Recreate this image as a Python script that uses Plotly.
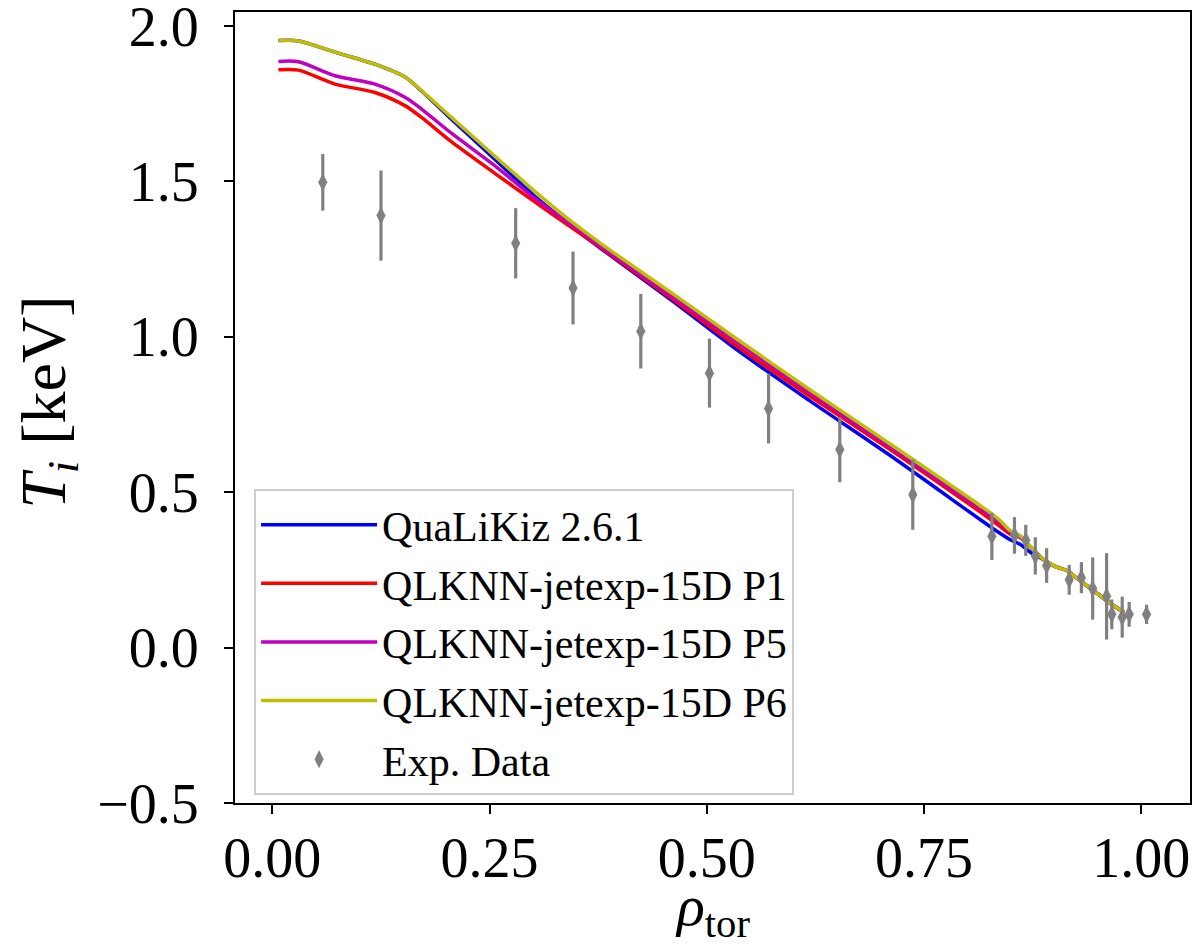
import plotly.graph_objects as go

# ---------------- data ----------------
rho = [0.007, 0.030, 0.072, 0.118, 0.153, 0.172, 0.206, 0.258, 0.302, 0.344, 0.378,
       0.459, 0.539, 0.619, 0.711, 0.814, 0.835, 0.849, 0.860, 0.873, 0.886, 0.900,
       0.914, 0.929, 0.948, 0.963, 0.980]

ti_qualikiz = [1.953, 1.952, 1.916, 1.877, 1.835, 1.790, 1.700, 1.566, 1.452, 1.357, 1.284,
               1.118, 0.949, 0.793, 0.618, 0.413, 0.372, 0.347, 0.333, 0.305, 0.285, 0.262,
               0.248, 0.216, 0.177, 0.145, 0.113]
ti_p1 = [1.859, 1.858, 1.813, 1.786, 1.743, 1.705, 1.628, 1.522, 1.434, 1.352, 1.286,
         1.124, 0.961, 0.808, 0.637, 0.438, 0.395, 0.365, 0.355, 0.322, 0.287, 0.262,
         0.248, 0.216, 0.177, 0.145, 0.113]
ti_p5 = [1.886, 1.885, 1.840, 1.813, 1.770, 1.732, 1.655, 1.546, 1.445, 1.360, 1.290,
         1.131, 0.974, 0.819, 0.645, 0.448, 0.407, 0.372, 0.358, 0.323, 0.287, 0.262,
         0.248, 0.216, 0.177, 0.145, 0.113]
ti_p6 = [1.953, 1.952, 1.916, 1.877, 1.835, 1.791, 1.706, 1.576, 1.468, 1.371, 1.300,
         1.142, 0.984, 0.829, 0.655, 0.458, 0.415, 0.377, 0.361, 0.324, 0.287, 0.262,
         0.248, 0.216, 0.177, 0.145, 0.113]

rho_exp = [0.058, 0.125, 0.280, 0.346, 0.424, 0.503, 0.571, 0.653, 0.737, 0.828, 0.854,
           0.867, 0.878, 0.891, 0.917, 0.931, 0.944, 0.960, 0.966, 0.978, 0.986, 1.006]
ti_exp = [1.497, 1.390, 1.301, 1.157, 1.018, 0.883, 0.769, 0.637, 0.492, 0.358, 0.361,
          0.345, 0.295, 0.264, 0.218, 0.225, 0.190, 0.165, 0.107, 0.098, 0.107, 0.107]
ti_exp_err = [0.091, 0.145, 0.113, 0.117, 0.120, 0.111, 0.112, 0.105, 0.113, 0.076, 0.059,
              0.050, 0.060, 0.056, 0.048, 0.050, 0.100, 0.139, 0.048, 0.066, 0.040, 0.031]

series_names = ["QuaLiKiz 2.6.1", "QLKNN-jetexp-15D P1", "QLKNN-jetexp-15D P5",
                "QLKNN-jetexp-15D P6"]
series_values = [ti_qualikiz, ti_p1, ti_p5, ti_p6]
series_colors = ["#0000ff", "#ff0000", "#bf00bf", "#bfbf00"]

x_ticks = [0.0, 0.25, 0.5, 0.75, 1.0]
x_ticklabels = ["0.00", "0.25", "0.50", "0.75", "1.00"]
y_ticks = [-0.5, 0.0, 0.5, 1.0, 1.5, 2.0]
y_ticklabels = ["\u22120.5", "0.0", "0.5", "1.0", "1.5", "2.0"]

x_title = "<i>ρ</i><sub>tor</sub>"
y_title = "<i>T</i><sub><i>i</i></sub> [keV]"

FONT = "Liberation Serif"

fig = go.Figure()
for i, (name, vals, col) in enumerate(zip(series_names, series_values, series_colors)):
    fig.add_trace(go.Scatter(
        x=rho, y=vals, mode="lines", name=name,
        line=dict(color=col, width=3.5, shape="spline", smoothing=0.8),
        legendgroup=f"g{i}",
    ))

fig.add_trace(go.Scatter(
    x=rho_exp, y=ti_exp, mode="markers", name="Exp. Data",
    marker=dict(symbol="diamond-tall", size=13, color="#808080"),
    error_y=dict(type="data", array=ti_exp_err, visible=True, color="#808080",
                 thickness=3.2, width=0),
    legendgroup="g4",
))

axis_common = dict(
    showline=True, linecolor="black", linewidth=2, mirror=True,
    ticks="outside", ticklen=9, tickwidth=2, tickcolor="black",
    showgrid=False, zeroline=False, automargin=False,
    ticklabeloverflow="allow",
    tickfont=dict(family=FONT, size=56, color="black"),
)

fig.update_layout(
    width=1194, height=941,
    margin=dict(l=227, r=12, t=4, b=146),
    paper_bgcolor="white", plot_bgcolor="white",
    font=dict(family=FONT, color="black"),
    xaxis=dict(range=[-0.043, 1.056], tickvals=x_ticks, ticktext=x_ticklabels,
               ticklabelstandoff=-4, **axis_common),
    yaxis=dict(range=[-0.5, 2.045], tickvals=y_ticks, ticktext=y_ticklabels,
               ticklabelstandoff=14, **axis_common),
    legend=dict(
        x=0.02, y=0.397, xanchor="left", yanchor="top",
        bgcolor="rgba(255,255,255,0.85)", bordercolor="#cccccc", borderwidth=2,
        font=dict(family=FONT, size=42, color="black"),
        itemwidth=116, tracegroupgap=1, traceorder="grouped",
    ),
    showlegend=True,
    annotations=[
        dict(text=x_title, xref="paper", yref="paper", x=0.5, y=-0.135,
             xanchor="center", yanchor="middle", showarrow=False,
             font=dict(family=FONT, size=58, color="black")),
        dict(text=y_title, xref="paper", yref="paper", x=-0.196, y=0.507,
             xanchor="center", yanchor="middle", showarrow=False, textangle=-90,
             font=dict(family=FONT, size=64, color="black")),
    ],
)

fig.write_html("out.html")
